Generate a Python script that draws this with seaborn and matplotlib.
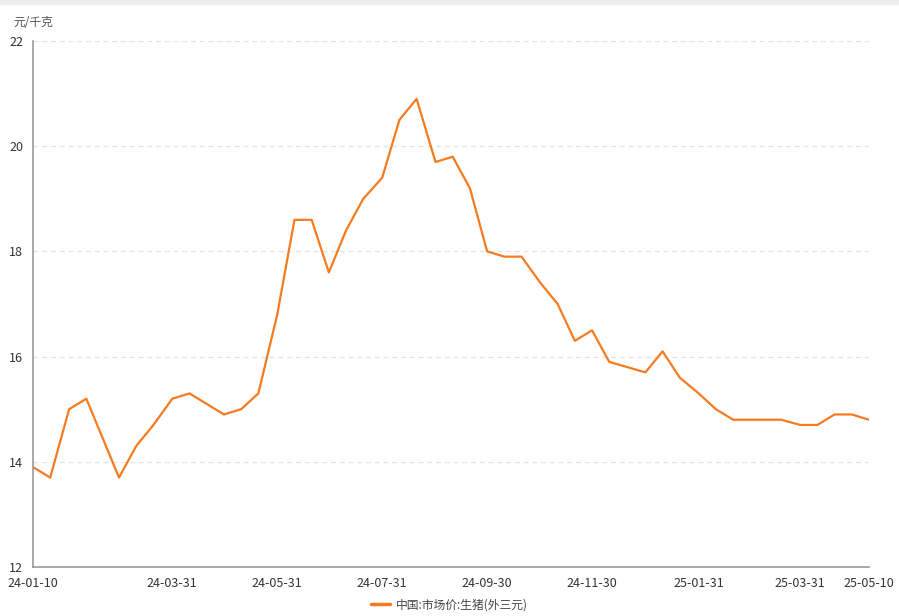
import numpy as np
import pandas as pd
import matplotlib
matplotlib.use("Agg")
import matplotlib.pyplot as plt
from matplotlib.lines import Line2D
import seaborn as sns

# 生猪(外三元)市场价, 元/千克
dates = [
    "2024-01-10", "2024-01-20", "2024-01-31", "2024-02-10", "2024-02-29",
    "2024-03-10", "2024-03-20", "2024-03-31", "2024-04-10", "2024-04-30",
    "2024-05-10", "2024-05-20", "2024-05-31", "2024-06-10", "2024-06-20",
    "2024-06-30", "2024-07-10", "2024-07-20", "2024-07-31", "2024-08-10",
    "2024-08-20", "2024-08-31", "2024-09-10", "2024-09-20", "2024-09-30",
    "2024-10-10", "2024-10-20", "2024-10-31", "2024-11-10", "2024-11-20",
    "2024-11-30", "2024-12-10", "2024-12-31", "2025-01-10", "2025-01-20",
    "2025-01-31", "2025-02-10", "2025-02-20", "2025-02-28", "2025-03-10",
    "2025-03-20", "2025-03-31", "2025-04-10", "2025-04-20", "2025-04-30",
    "2025-05-10",
]
prices = [
    13.9, 13.7, 15.0, 15.2, 13.7,
    14.3, 14.7, 15.2, 15.3, 14.9,
    15.0, 15.3, 16.8, 18.6, 18.6,
    17.6, 18.4, 19.0, 19.4, 20.5,
    20.9, 19.7, 19.8, 19.2, 18.0,
    17.9, 17.9, 17.4, 17.0, 16.3,
    16.5, 15.9, 15.7, 16.1, 15.6,
    15.3, 15.0, 14.8, 14.8, 14.8,
    14.8, 14.7, 14.7, 14.9, 14.9,
    14.8,
]
series_name = "中国:市场价:生猪(外三元)"
unit_label = "元/千克"

tick_dates = ["2024-01-10", "2024-01-31", "2024-03-31", "2024-05-31", "2024-07-31",
              "2024-09-30", "2024-11-30", "2025-01-31", "2025-03-31", "2025-05-10"]
tick_labels = ["24-01-10", "", "24-03-31", "24-05-31", "24-07-31",
               "24-09-30", "24-11-30", "25-01-31", "25-03-31", "25-05-10"]
y_ticks = [12, 14, 16, 18, 20, 22]

df = pd.DataFrame({"date": pd.to_datetime(dates), "price": prices})

sns.set_theme(style="white")
plt.rcParams['font.family'] = ['Noto Sans CJK SC', 'DejaVu Sans']

line_color = "#F47B20"
axis_color = "#9A9A9A"
text_color = "#333333"

fig = plt.figure(figsize=(8.99, 6.16), dpi=100)
W, H = 899, 616
ax = fig.add_axes([33 / W, (H - 567) / H, (869 - 33) / W, (567 - 41) / H])

# thin grey strip at the very top of the screenshot
fig.patches.append(plt.Rectangle((0, 1 - 4 / H), 1, 4 / H, transform=fig.transFigure,
                                 color="#EEEEEE", zorder=0))

sns.lineplot(data=df, x="date", y="price", ax=ax, color=line_color, linewidth=1.6,
             legend=False)

ax.set_xlim(pd.Timestamp("2024-01-10"), pd.Timestamp("2025-05-10"))
ax.set_ylim(12, 22)
ax.set_yticks(y_ticks)
ax.set_yticklabels([str(v) for v in y_ticks], color=text_color, fontsize=9)
ax.set_xticks(pd.to_datetime(tick_dates))
ax.set_xticklabels(tick_labels, color=text_color, fontsize=9)

for v in y_ticks[1:]:
    ax.axhline(v, color="#E3E3E3", linewidth=0.9, linestyle=(0, (4, 3)), zorder=0)

for side in ["top", "right"]:
    ax.spines[side].set_visible(False)
for side in ["left", "bottom"]:
    ax.spines[side].set_color(axis_color)
    ax.spines[side].set_linewidth(1.2)

ax.tick_params(axis="both", direction="out", length=5, width=1, color=axis_color, pad=2)
ax.set_xlabel("")
ax.set_ylabel("")

fig.text(13 / W, 1 - 22 / H, unit_label, fontsize=8.5, color="#555555", va="center", ha="left")

handle = Line2D([], [], color=line_color, linewidth=2.5)
fig.legend([handle], [series_name], loc="center", bbox_to_anchor=(0.5, 1 - 605 / H),
           frameon=False, fontsize=8.5, handlelength=1.6, handletextpad=0.5,
           labelcolor="#444444")

fig.savefig("out.png", dpi=100)
